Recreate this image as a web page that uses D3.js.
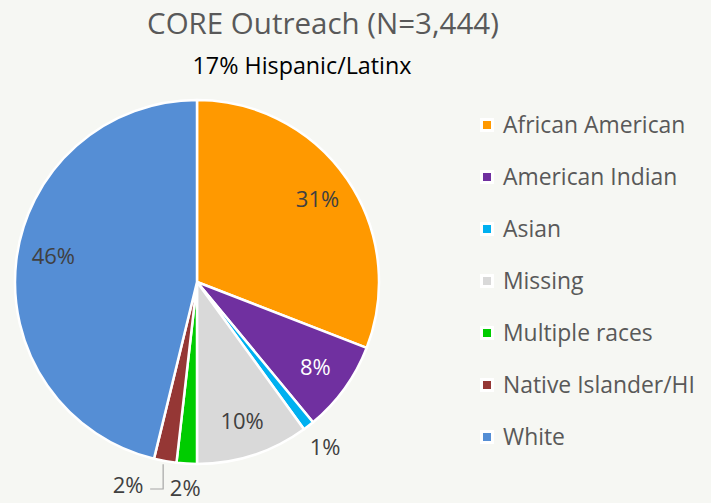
<!DOCTYPE html>
<html>
<head>
<meta charset="utf-8">
<script src="https://cdn.jsdelivr.net/npm/d3@7"></script>
<style>
  body { margin:0; background:#f6f7f3; }
  svg { display:block; font-family:"Open Sans", sans-serif; }
</style>
</head>
<body>
<div id="chart"></div>
<script>
var titleText = "CORE Outreach (N=3,444)";
var subtitleText = "17% Hispanic/Latinx";
var categories = ["African American","American Indian","Asian","Missing","Multiple races","Native Islander/HI","White"];
var shares = [30.9, 8.1, 1.0, 10.0, 1.8, 2.0, 46.2];
var colors = ["#ff9900","#7030a0","#00b0f0","#d9d9d9","#00cc00","#953735","#558ed5"];

var width = 711, height = 503;
var cx = 197, cy = 282, radius = 182;

var data = categories.map(function(c, i){ return {name:c, value:shares[i], color:colors[i]} });

var svg = d3.select("#chart").append("svg")
  .attr("width", width).attr("height", height);

svg.append("rect").attr("width", width).attr("height", height).attr("fill", "#f6f7f3");

svg.append("text")
  .attr("x", 323).attr("y", 34)
  .attr("text-anchor", "middle")
  .attr("font-size", 29.5)
  .attr("fill", "#595959")
  .text(titleText);

svg.append("text")
  .attr("x", 302).attr("y", 74)
  .attr("text-anchor", "middle")
  .attr("font-size", 23.3)
  .attr("fill", "#000")
  .text(subtitleText);

var pie = d3.pie().sort(null).value(function(d){return d.value});
var arcs = pie(data);
var arc = d3.arc().innerRadius(0).outerRadius(radius);
var fmt = function(v){ return Math.round(v) + "%" };

var g = svg.append("g").attr("transform", "translate(" + cx + "," + cy + ")");

g.selectAll("path")
  .data(arcs)
  .enter()
  .append("path")
  .attr("d", arc)
  .attr("fill", function(d){return d.data.color})
  .attr("stroke", "#fff")
  .attr("stroke-width", 2.5)
  .attr("stroke-linejoin", "round");

// labels: big slices inside, small ones outside
function polar(a, r){ return [Math.sin(a)*r, -Math.cos(a)*r] }

arcs.forEach(function(d, i){
  var mid = (d.startAngle + d.endAngle)/2;
  var inside = d.data.value >= 5;
  if (d.data.name == "White") mid += 0.06; // excel nudges this one up a little
  var p = polar(mid, inside ? 146 : 209);
  p[1] = Math.min(p[1], height - cy - 15); // keep it inside the frame
  var fill = d.data.name == "American Indian" ? "#fff" : "#404040";
  if (d.data.name == "Native Islander/HI") {
    // pushed aside with a leader line
    var e = polar(mid, radius);
    var ly = 207;
    g.append("polyline")
      .attr("points", [[e[0]-2, e[1]+3], [e[0]-2, ly], [e[0]-15, ly]].join(" "))
      .attr("fill", "none")
      .attr("stroke", "#a6a6a6")
      .attr("stroke-width", 1.2);
    p = [e[0] - 37, ly - 4];
  }
  g.append("text")
    .attr("x", p[0]).attr("y", p[1])
    .attr("dy", "0.36em")
    .attr("text-anchor", "middle")
    .attr("font-size", 22)
    .attr("fill", fill)
    .text(fmt(d.data.value));
});

var legend = svg.append("g");
var rowY = d3.scalePoint().domain(categories).range([125, 437]);

legend.selectAll("rect")
  .data(data)
  .enter()
  .append("rect")
  .attr("x", 481.5)
  .attr("y", function(d){return rowY(d.name) - 5.5})
  .attr("width", 11).attr("height", 11)
  .attr("fill", function(d){return d.color})
  .attr("stroke", "#fff")
  .attr("stroke-width", 3);

legend.selectAll("text")
  .data(data)
  .enter()
  .append("text")
  .attr("x", 503)
  .attr("y", function(d){return rowY(d.name)})
  .attr("dy", "0.36em")
  .attr("font-size", 22.9)
  .attr("fill", "#595959")
  .text(function(d){return d.name});
</script>
</body>
</html>
